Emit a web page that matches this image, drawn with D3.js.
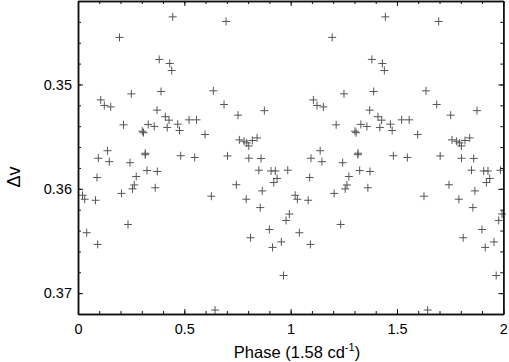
<!DOCTYPE html>
<html>
<head>
<meta charset="utf-8">
<script src="https://cdn.jsdelivr.net/npm/d3@7"></script>
<style>
  html, body { margin: 0; padding: 0; background: #fff; }
  svg { display: block; font-family: "Liberation Sans", Arial, sans-serif; }
</style>
</head>
<body>
<div id="chart"></div>
<script>
// phase in [0,1) and the Δv reading, each point is plotted twice (phase and phase + 1)
const phase = [
  0.4454, 0.6961, 0.1952, 0.3819, 0.4313, 0.4407, 0.2507, 0.3904, 0.6364, 0.6867,
  0.7526, 0.8763, 0.1068, 0.1237, 0.1538, 0.3716, 0.4106, 0.4280, 0.2140, 0.3302,
  0.3584, 0.4196, 0.4690, 0.4774, 0.3024, 0.3081, 0.5221, 0.5574, 0.5974, 0.7587,
  0.7808, 0.7935, 0.8029, 0.8198, 0.8420, 0.1388, 0.0955, 0.3166, 0.3161, 0.4831,
  0.1472, 0.2446, 0.5489, 0.7032, 0.8034, 0.8608, 0.0894, 0.2738, 0.3246, 0.3730,
  0.8504, 0.9078, 0.9280, 0.9864, 0.9360, 0.9205, 0.2648, 0.2564, 0.3631, 0.2046,
  0.0212, 0.0315, 0.0823, 0.2352, 0.0409, 0.0927, 0.6270, 0.7446, 0.7912, 0.8664,
  0.8570, 0.8998, 0.9149, 0.9563, 0.9666, 0.9784, 0.9939, 0.8114, 0.6444
]
const dv = [
  0.34352, 0.34396, 0.34549, 0.34760, 0.34799, 0.34866, 0.35090, 0.35067, 0.35061, 0.35192,
  0.35294, 0.35251, 0.35148, 0.35201, 0.35215, 0.35246, 0.35309, 0.35342, 0.35387, 0.35383,
  0.35402, 0.35412, 0.35381, 0.35441, 0.35448, 0.35462, 0.35339, 0.35339, 0.35480, 0.35531,
  0.35544, 0.35560, 0.35589, 0.35537, 0.35512, 0.35635, 0.35707, 0.35659, 0.35673, 0.35683,
  0.35740, 0.35750, 0.35700, 0.35685, 0.35707, 0.35710, 0.35892, 0.35882, 0.35825, 0.35834,
  0.35822, 0.35829, 0.35829, 0.35822, 0.35901, 0.35940, 0.35963, 0.36001, 0.35990, 0.36044,
  0.36062, 0.36100, 0.36110, 0.36342, 0.36421, 0.36533, 0.36071, 0.35961, 0.36100, 0.36020,
  0.36180, 0.36390, 0.36562, 0.36509, 0.36831, 0.36303, 0.36242, 0.36469, 0.37162
]
const cycles = [0, 1]

const xMajor = [0, 0.5, 1, 1.5, 2]
const xMinor = d3.range(0, 20.5).map(i => i / 10)
const yMajor = [0.35, 0.36, 0.37]
const yMinor = d3.range(171, 186.5).map(i => i / 500)

const W = 509
const H = 362
const margin = { top: 1, right: 5.7, bottom: 48, left: 78 }

const svg = d3.select('#chart').append('svg')
  .attr('width', W)
  .attr('height', H)

const x = d3.scaleLinear().domain([0, 2]).range([margin.left, W - margin.right])
const y = d3.scaleLinear().domain([0.342, 0.372]).range([margin.top, H - margin.bottom])

const points = []
cycles.forEach(c => phase.forEach((p, i) => points.push({ p: p + c, v: dv[i] })))

svg.append('g')
  .selectAll('path')
  .data(points)
  .enter().append('path')
  .attr('transform', d => `translate(${x(d.p)},${y(d.v)})`)
  .attr('d', 'M-4,0H4M0,-4V4')
  .attr('stroke', '#555')
  .attr('stroke-width', 1)
  .attr('fill', 'none')

const fmtX = d => d3.format('')(d)
const axisStyle = g => {
  g.selectAll('.domain').attr('stroke', '#111').attr('stroke-width', 1.5)
  g.selectAll('.tick line').attr('stroke', '#111').attr('stroke-width', 1)
  g.selectAll('.tick text').attr('fill', '#000').style('font-size', '14.5px')
    .style('font-family', '"Liberation Sans", Arial, sans-serif')
}

const yBottom = H - margin.bottom
const yTop = margin.top
const xLeft = margin.left
const xRight = W - margin.right

// bottom
svg.append('g').attr('transform', `translate(0,${yBottom})`)
  .call(d3.axisBottom(x).tickValues(xMinor).tickSize(-3).tickSizeOuter(0).tickFormat(''))
  .call(axisStyle)
svg.append('g').attr('transform', `translate(0,${yBottom})`)
  .call(d3.axisBottom(x).tickValues(xMajor).tickSize(-5).tickSizeOuter(0).tickPadding(10).tickFormat(fmtX))
  .call(axisStyle)
// top
svg.append('g').attr('transform', `translate(0,${yTop})`)
  .call(d3.axisTop(x).tickValues(xMinor).tickSize(-3).tickSizeOuter(0).tickFormat(''))
  .call(axisStyle)
svg.append('g').attr('transform', `translate(0,${yTop})`)
  .call(d3.axisTop(x).tickValues(xMajor).tickSize(-5).tickSizeOuter(0).tickFormat(''))
  .call(axisStyle)
// left
svg.append('g').attr('transform', `translate(${xLeft},0)`)
  .call(d3.axisLeft(y).tickValues(yMinor).tickSize(-3).tickSizeOuter(0).tickFormat(''))
  .call(axisStyle)
svg.append('g').attr('transform', `translate(${xLeft},0)`)
  .call(d3.axisLeft(y).tickValues(yMajor).tickSize(-5).tickSizeOuter(0).tickPadding(6).tickFormat(d3.format('.2f')))
  .call(axisStyle)
// right
svg.append('g').attr('transform', `translate(${xRight},0)`)
  .call(d3.axisRight(y).tickValues(yMinor).tickSize(-3).tickSizeOuter(0).tickFormat(''))
  .call(axisStyle)
svg.append('g').attr('transform', `translate(${xRight},0)`)
  .call(d3.axisRight(y).tickValues(yMajor).tickSize(-5).tickSizeOuter(0).tickFormat(''))
  .call(axisStyle)

// axis titles
const xt = svg.append('text')
  .attr('x', 297)
  .attr('y', 358)
  .attr('text-anchor', 'middle')
  .style('font-size', '16.5px')
  .attr('fill', '#000')
xt.append('tspan').text('Phase (1.58 cd')
xt.append('tspan').attr('dy', -7).style('font-size', '11px').text('-1')
xt.append('tspan').attr('dy', 7).text(')')

svg.append('text')
  .attr('transform', `translate(20,177) rotate(-90)`)
  .attr('text-anchor', 'middle')
  .style('font-size', '18px')
  .attr('fill', '#000')
  .text('Δv')
</script>
</body>
</html>
